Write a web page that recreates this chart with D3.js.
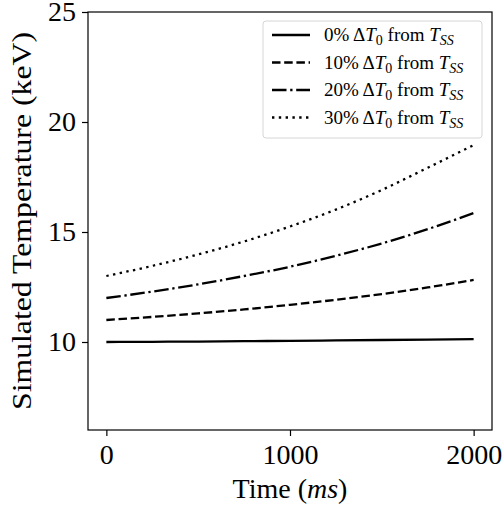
<!DOCTYPE html>
<html>
  <head>
    <script src="https://d3js.org/d3.v7.min.js"></script>
    <style>
      body { margin: 0; background: #fff; }
      text { font-family: "Liberation Serif", serif; fill: #000; }
      .tick text { font-size: 28px; }
      .axis-label { font-size: 28px; }
      .legend text { font-size: 19px; }
    </style>
  </head>
  <body>
    <svg width="503" height="514"></svg>
    <script>
      // time in ms
      const times = [0, 250, 500, 750, 1000, 1250, 1500, 1750, 2000];
      // simulated temperature (keV) per initial offset
      const temp0 = [10.00, 10.01, 10.02, 10.04, 10.05, 10.07, 10.09, 10.11, 10.13];
      const temp10 = [11.00, 11.14, 11.30, 11.48, 11.69, 11.92, 12.18, 12.48, 12.82];
      const temp20 = [12.00, 12.29, 12.62, 13.00, 13.42, 13.92, 14.48, 15.13, 15.86];
      const temp30 = [13.00, 13.46, 13.98, 14.57, 15.25, 16.02, 16.91, 17.92, 18.95];
      const pcts = ["0%", "10%", "20%", "30%"];
      const xTicks = [0, 1000, 2000];
      const yTicks = [10, 15, 20, 25];

      const series = [temp0, temp10, temp20, temp30];
      const dashes = [null, "8.5,3.7", "14.5,3.7,2.3,3.7", "2.4,4.4"];

      const svg = d3.select("svg");
      const m = { left: 88, right: 492, top: 12, bottom: 430 };

      const x = d3.scaleLinear().domain([-100, 2100]).range([m.left, m.right]);
      const y = d3.scaleLinear().domain([6, 25]).range([m.bottom, m.top]);

      const line = d3.line()
        .x((d, i) => x(times[i]))
        .y(d => y(d))
        .curve(d3.curveMonotoneX);

      svg.selectAll(".series").data(series).enter().append("path")
        .attr("class", "series")
        .attr("d", line)
        .attr("fill", "none")
        .attr("stroke", "#000")
        .attr("stroke-width", 2.3)
        .attr("stroke-dasharray", (d, i) => dashes[i]);

      // frame
      svg.append("rect")
        .attr("x", m.left).attr("y", m.top)
        .attr("width", m.right - m.left).attr("height", m.bottom - m.top)
        .attr("fill", "none").attr("stroke", "#000").attr("stroke-width", 1.2);

      const xAxis = svg.append("g")
        .attr("transform", `translate(0,${m.bottom})`)
        .call(d3.axisBottom(x).tickValues(xTicks).tickSize(6).tickPadding(8).tickFormat(d3.format("d")));
      const yAxis = svg.append("g")
        .attr("transform", `translate(${m.left},0)`)
        .call(d3.axisLeft(y).tickValues(yTicks).tickSize(6).tickPadding(6).tickFormat(d3.format("d")));
      [xAxis, yAxis].forEach(g => {
        g.attr("font-family", null).attr("font-size", null);
        g.select(".domain").remove();
        g.selectAll(".tick line").attr("stroke", "#000").attr("stroke-width", 1.2);
      });

      // axis labels
      const xl = svg.append("text").attr("class", "axis-label")
        .attr("x", (m.left + m.right) / 2).attr("y", 498)
        .attr("text-anchor", "middle");
      xl.append("tspan").text("Time (");
      xl.append("tspan").attr("font-style", "italic").text("ms");
      xl.append("tspan").text(")");

      svg.append("text").attr("class", "axis-label")
        .attr("transform", `translate(31,${(m.top + m.bottom) / 2}) rotate(-90)`)
        .attr("text-anchor", "middle")
        .attr("textLength", 378)
        .attr("lengthAdjust", "spacingAndGlyphs")
        .text("Simulated Temperature (keV)");

      // legend
      const lg = svg.append("g").attr("class", "legend");
      lg.append("rect")
        .attr("x", 263).attr("y", 21).attr("width", 219).attr("height", 117)
        .attr("rx", 3)
        .attr("fill", "#fff").attr("fill-opacity", 0.8)
        .attr("stroke", "#d6d6d6").attr("stroke-width", 1);
      pcts.forEach((p, i) => {
        const yy = 35 + i * 27.5;
        lg.append("line")
          .attr("x1", 272).attr("x2", 310).attr("y1", yy).attr("y2", yy)
          .attr("stroke", "#000").attr("stroke-width", 2.3)
          .attr("stroke-dasharray", dashes[i]);
        const t = lg.append("text").attr("x", 324).attr("y", yy + 6);
        t.append("tspan").text(p + " \u0394");
        t.append("tspan").attr("font-style", "italic").text("T");
        t.append("tspan").attr("font-size", "14px").attr("dy", 4).text("0");
        t.append("tspan").attr("dy", -4).text(" from ");
        t.append("tspan").attr("font-style", "italic").text("T");
        t.append("tspan").attr("font-style", "italic").attr("font-size", "14px").attr("dy", 4).text("SS");
      });
    </script>
  </body>
</html>
